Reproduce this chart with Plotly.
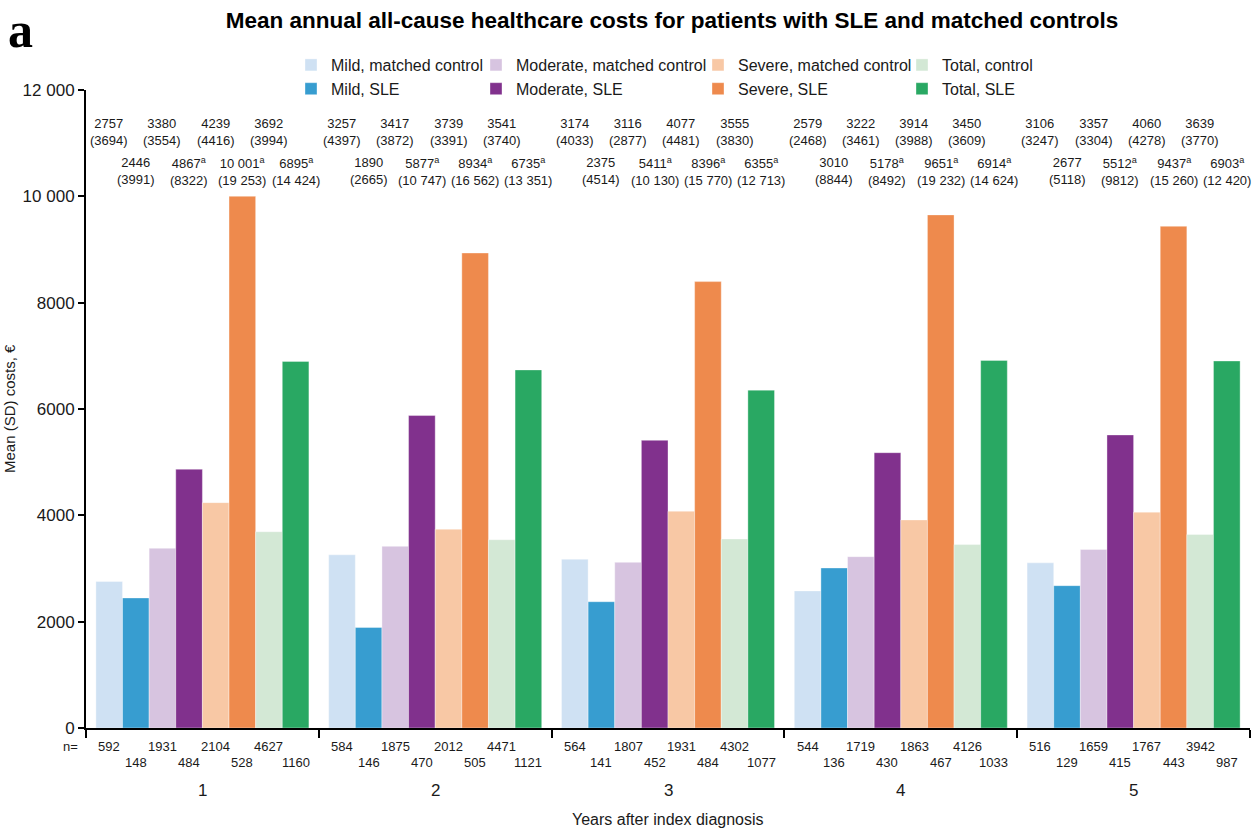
import plotly.graph_objects as go

# ---------------- data ----------------
years = ["1", "2", "3", "4", "5"]

mild_ctrl_mean = [2757, 3257, 3174, 2579, 3106]
mild_ctrl_sd = [3694, 4397, 4033, 2468, 3247]
mild_sle_mean = [2446, 1890, 2375, 3010, 2677]
mild_sle_sd = [3991, 2665, 4514, 8844, 5118]
mod_ctrl_mean = [3380, 3417, 3116, 3222, 3357]
mod_ctrl_sd = [3554, 3872, 2877, 3461, 3304]
mod_sle_mean = [4867, 5877, 5411, 5178, 5512]
mod_sle_sd = [8322, 10747, 10130, 8492, 9812]
sev_ctrl_mean = [4239, 3739, 4077, 3914, 4060]
sev_ctrl_sd = [4416, 3391, 4481, 3988, 4278]
sev_sle_mean = [10001, 8934, 8396, 9651, 9437]
sev_sle_sd = [19253, 16562, 15770, 19232, 15260]
tot_ctrl_mean = [3692, 3541, 3555, 3450, 3639]
tot_ctrl_sd = [3994, 3740, 3830, 3609, 3770]
tot_sle_mean = [6895, 6735, 6355, 6914, 6903]
tot_sle_sd = [14424, 13351, 12713, 14624, 12420]

mild_ctrl_n = [592, 584, 564, 544, 516]
mild_sle_n = [148, 146, 141, 136, 129]
mod_ctrl_n = [1931, 1875, 1807, 1719, 1659]
mod_sle_n = [484, 470, 452, 430, 415]
sev_ctrl_n = [2104, 2012, 1931, 1863, 1767]
sev_sle_n = [528, 505, 484, 467, 443]
tot_ctrl_n = [4627, 4471, 4302, 4126, 3942]
tot_sle_n = [1160, 1121, 1077, 1033, 987]

y_ticks = [0, 2000, 4000, 6000, 8000, 10000, 12000]

# series: (name, mean, sd, n, colour, significance flag, is_control, legend)
series = [
    ("Mild, matched control", mild_ctrl_mean, mild_ctrl_sd, mild_ctrl_n, "#cfe1f3", False, True, "legend"),
    ("Mild, SLE", mild_sle_mean, mild_sle_sd, mild_sle_n, "#379dd0", False, False, "legend"),
    ("Moderate, matched control", mod_ctrl_mean, mod_ctrl_sd, mod_ctrl_n, "#d7c4e0", False, True, "legend2"),
    ("Moderate, SLE", mod_sle_mean, mod_sle_sd, mod_sle_n, "#81318d", True, False, "legend2"),
    ("Severe, matched control", sev_ctrl_mean, sev_ctrl_sd, sev_ctrl_n, "#f8c8a5", False, True, "legend3"),
    ("Severe, SLE", sev_sle_mean, sev_sle_sd, sev_sle_n, "#ee8a4d", True, False, "legend3"),
    ("Total, control", tot_ctrl_mean, tot_ctrl_sd, tot_ctrl_n, "#d3e8d5", False, True, "legend4"),
    ("Total, SLE", tot_sle_mean, tot_sle_sd, tot_sle_n, "#29a863", True, False, "legend4"),
]


def fmt(v):
    return f"{v:,}".replace(",", " ") if v >= 10000 else str(v)


FONT = "Liberation Sans, Arial, sans-serif"
TXT = "#1a1a1a"

x_pos = list(range(len(years)))
BARGAP = 0.085
n_series = len(series)
bar_w = (1 - BARGAP) / n_series

fig = go.Figure()
for name, mean, sd, n, col, sig, ctrl, leg in series:
    fig.add_trace(go.Bar(
        x=x_pos, y=mean, name=name, legend=leg,
        marker=dict(color=col, line=dict(width=0.6, color="rgba(255,255,255,0.6)")),
        hoverinfo="y+name",
    ))

# plot-area geometry (pixels) used to place labels
W, H = 1253, 831
ML, MR, MT, MB = 86, 3, 90, 103
PH = H - MT - MB
PW = W - ML - MR


def py(px):  # pixel y -> paper y
    return (H - MB - px) / PH


def lx(px):  # pixel x -> paper x
    return (px - ML) / PW


annotations = []
ctrl_label_y = 11210
sle_label_y = 10476
for k, (name, mean, sd, n, col, sig, ctrl, leg) in enumerate(series):
    off = (k - (n_series - 1) / 2) * bar_w
    for i in range(len(years)):
        sup = "<sup>a</sup>" if sig else ""
        annotations.append(dict(
            x=x_pos[i] + off, y=ctrl_label_y if ctrl else sle_label_y,
            xref="x", yref="y", showarrow=False,
            text=f"{fmt(mean[i])}{sup}<br>({fmt(sd[i])})",
            font=dict(size=13, color=TXT, family=FONT),
            xanchor="center", yanchor="middle", align="center",
        ))
        annotations.append(dict(
            x=x_pos[i] + off, y=py(746) if ctrl else py(762),
            xref="x", yref="paper", showarrow=False, text=str(n[i]),
            font=dict(size=13, color=TXT, family=FONT),
            xanchor="center", yanchor="middle",
        ))

for i, yr in enumerate(years):
    annotations.append(dict(
        x=x_pos[i], y=py(791), xref="x", yref="paper", showarrow=False, text=yr,
        font=dict(size=17, color=TXT, family=FONT), xanchor="center", yanchor="middle",
    ))

annotations += [
    dict(x=lx(70), y=py(746), xref="paper", yref="paper", showarrow=False,
         text="n=", font=dict(size=13, color=TXT, family=FONT), xanchor="center", yanchor="middle"),
    dict(x=0.5, y=py(819), xref="paper", yref="paper", showarrow=False,
         text="Years after index diagnosis", font=dict(size=16, color=TXT, family=FONT),
         xanchor="center", yanchor="middle"),
    dict(x=lx(9), y=py(409), xref="paper", yref="paper", showarrow=False,
         text="Mean (SD) costs, €", textangle=-90, font=dict(size=15, color=TXT, family=FONT),
         xanchor="center", yanchor="middle"),
    dict(x=lx(6), y=py(0), xref="paper", yref="paper", showarrow=False,
         text="<b>a</b>", font=dict(size=50, color="#000", family="Liberation Serif, Times New Roman, serif"),
         xanchor="left", yanchor="top"),
]

legend_common = dict(
    orientation="v", font=dict(size=16, color=TXT, family=FONT),
    bgcolor="rgba(0,0,0,0)", borderwidth=0, tracegroupgap=0,
    xanchor="left", yanchor="top", y=py(48), traceorder="normal",
)

fig.update_layout(
    width=W, height=H,
    margin=dict(l=ML, r=MR, t=MT, b=MB),
    paper_bgcolor="white", plot_bgcolor="white",
    barmode="group", bargap=BARGAP, bargroupgap=0,
    title=dict(
        text="<b>Mean annual all-cause healthcare costs for patients with SLE and matched controls</b>",
        x=lx(672), xref="paper", xanchor="center", y=1 - 20 / H, yanchor="middle",
        font=dict(size=22.5, color="#000", family=FONT),
    ),
    legend=dict(x=lx(329 - 38), **legend_common),
    legend2=dict(x=lx(514 - 38), **legend_common),
    legend3=dict(x=lx(736 - 38), **legend_common),
    legend4=dict(x=lx(940 - 38), **legend_common),
    xaxis=dict(
        range=[-0.5, len(years) - 0.5],
        tickvals=[i - 0.5 for i in range(len(years) + 1)],
        showticklabels=False, ticks="outside", ticklen=8, tickwidth=2, tickcolor="#000",
        showline=True, linecolor="#000", linewidth=2, showgrid=False, zeroline=False,
    ),
    yaxis=dict(
        range=[0, 12000], tickvals=y_ticks, ticktext=[fmt(v) for v in y_ticks],
        ticks="outside", ticklen=6, tickwidth=2, tickcolor="#000",
        tickfont=dict(size=17, color=TXT, family=FONT),
        showline=True, linecolor="#000", linewidth=2, showgrid=False, zeroline=False,
    ),
    annotations=annotations,
    font=dict(family=FONT, color=TXT),
)

fig.write_html(
    "out.html",
    config={"displayModeBar": False},
    post_script="document.body.style.margin='0';document.body.style.padding='0';",
)
